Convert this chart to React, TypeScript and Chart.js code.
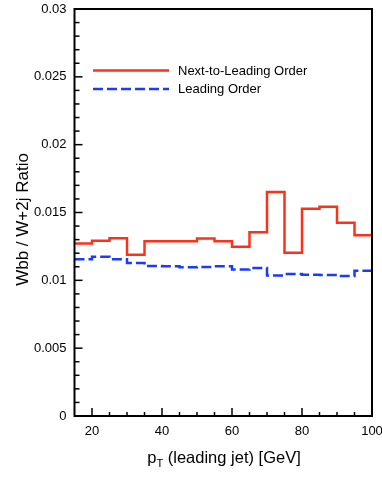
import React, { useEffect, useRef } from "react";
import { Chart, registerables } from "chart.js";

Chart.register(...registerables);

// Bin edges (GeV)
const binEdges = [15, 20, 25, 30, 35, 40, 45, 50, 55, 60, 65, 70, 75, 80, 85, 90, 95, 100];
// Next-to-Leading Order ratio per bin
const nloValues = [
  0.01272, 0.01292, 0.01310, 0.01188, 0.01289, 0.01289, 0.01289, 0.01309, 0.01288,
  0.01248, 0.01355, 0.01651, 0.01204, 0.01527, 0.01542, 0.01425, 0.01333,
];
// Leading Order ratio per bin
const loValues = [
  0.01156, 0.01173, 0.01156, 0.01127, 0.01105, 0.01104, 0.01096, 0.01099, 0.01103,
  0.01080, 0.01090, 0.01036, 0.01046, 0.01042, 0.01040, 0.01032, 0.01071,
];
const xTicks = [20, 40, 60, 80, 100];
const yTicks = [0, 0.005, 0.01, 0.015, 0.02, 0.025, 0.03];
const seriesLabels = ["Next-to-Leading Order", "Leading Order"];

const RED = "rgb(255,48,24)";
const BLUE = "rgb(28,58,255)";
const FONT = "'Liberation Sans', Arial, Helvetica, sans-serif";

function toSteps(vals: number[]) {
  const pts = vals.map((v, i) => ({ x: binEdges[i], y: v }));
  pts.push({ x: binEdges[binEdges.length - 1], y: vals[vals.length - 1] });
  return pts;
}

const decorPlugin = {
  id: "decor",
  afterDatasetsDraw(chart: any) {
    const { ctx, chartArea: a, scales } = chart;
    const xs = scales.x;
    const ys = scales.y;
    ctx.save();
    ctx.strokeStyle = "#000";
    // minor / major ticks on x (inward)
    ctx.lineWidth = 1.5;
    for (let v = 20; v <= 95; v += 5) {
      const px = xs.getPixelForValue(v);
      const len = v % 20 === 0 ? 8 : 4;
      ctx.beginPath();
      ctx.moveTo(px, a.bottom);
      ctx.lineTo(px, a.bottom - len);
      ctx.stroke();
    }
    // y ticks (inward, left axis)
    for (let i = 1; i < 30; i++) {
      const v = i * 0.001;
      const py = ys.getPixelForValue(v);
      const len = i % 5 === 0 ? 8 : 5;
      ctx.beginPath();
      ctx.moveTo(a.left, py);
      ctx.lineTo(a.left + len, py);
      ctx.stroke();
    }
    // frame
    ctx.lineWidth = 2;
    ctx.strokeRect(a.left, a.top, a.right - a.left, a.bottom - a.top);

    // legend
    ctx.lineWidth = 2.5;
    ctx.strokeStyle = RED;
    ctx.setLineDash([]);
    ctx.beginPath();
    ctx.moveTo(93, 70.5);
    ctx.lineTo(169, 70.5);
    ctx.stroke();
    ctx.strokeStyle = BLUE;
    ctx.setLineDash([10, 4]);
    ctx.beginPath();
    ctx.moveTo(93, 89);
    ctx.lineTo(169, 89);
    ctx.stroke();
    ctx.setLineDash([]);
    ctx.fillStyle = "#000";
    ctx.font = `13px ${FONT}`;
    ctx.textAlign = "left";
    ctx.textBaseline = "middle";
    ctx.fillText(seriesLabels[0], 178, 71);
    ctx.fillText(seriesLabels[1], 178, 89.5);

    // x title with subscript
    const main = " (leading jet) [GeV]";
    ctx.font = `16.5px ${FONT}`;
    const wp = ctx.measureText("p").width;
    const wm = ctx.measureText(main).width;
    ctx.font = `11px ${FONT}`;
    const wt = ctx.measureText("T").width;
    const total = wp + wt + wm;
    let x0 = 224 - total / 2;
    const base = 463;
    ctx.textBaseline = "alphabetic";
    ctx.font = `16.5px ${FONT}`;
    ctx.fillText("p", x0, base);
    ctx.font = `11px ${FONT}`;
    ctx.fillText("T", x0 + wp, base + 4);
    ctx.font = `16.5px ${FONT}`;
    ctx.fillText(main, x0 + wp + wt, base);

    // y title
    ctx.save();
    ctx.translate(23, 219.5);
    ctx.rotate(-Math.PI / 2);
    ctx.textAlign = "center";
    ctx.textBaseline = "middle";
    ctx.font = `17px ${FONT}`;
    ctx.fillText("Wbb / W+2j Ratio", 0, 0);
    ctx.restore();

    ctx.restore();
  },
};

export default function App() {
  const ref = useRef<HTMLCanvasElement | null>(null);
  useEffect(() => {
    if (!ref.current) return;
    const chart = new Chart(ref.current, {
      type: "line",
      data: {
        datasets: [
          {
            label: seriesLabels[0],
            data: toSteps(nloValues),
            borderColor: RED,
            borderWidth: 2.5,
            stepped: "before",
            pointRadius: 0,
            fill: false,
          },
          {
            label: seriesLabels[1],
            data: toSteps(loValues),
            borderColor: BLUE,
            borderWidth: 2.5,
            borderDash: [10, 4],
            stepped: "before",
            pointRadius: 0,
            fill: false,
          },
        ],
      },
      options: {
        animation: false,
        responsive: false,
        maintainAspectRatio: false,
        layout: { padding: { top: 9, right: 10, left: 0, bottom: 0 } },
        plugins: { legend: { display: false }, tooltip: { enabled: false } },
        scales: {
          x: {
            type: "linear",
            min: 15,
            max: 100,
            grid: { display: false },
            border: { display: false },
            ticks: {
              color: "#000",
              font: { family: FONT, size: 13 },
              padding: 0,
              maxRotation: 0,
              autoSkip: false,
            },
            afterBuildTicks: (s: any) => {
              s.ticks = xTicks.map((v) => ({ value: v }));
            },
            afterFit: (s: any) => {
              s.height = 76;
              s.paddingLeft = 0;
              s.paddingRight = 0;
            },
          },
          y: {
            type: "linear",
            min: 0,
            max: 0.03,
            grid: { display: false },
            border: { display: false },
            ticks: {
              color: "#000",
              font: { family: FONT, size: 13 },
              padding: 0,
              autoSkip: false,
              callback: (v: any) => String(+Number(v).toFixed(3)),
            },
            afterBuildTicks: (s: any) => {
              s.ticks = yTicks.map((v) => ({ value: v }));
            },
            afterFit: (s: any) => {
              s.width = 74.5;
              s.paddingTop = 0;
              s.paddingBottom = 0;
            },
          },
        },
      },
      plugins: [decorPlugin],
    });
    return () => chart.destroy();
  }, []);
  return (
    <div style={{ position: "absolute", left: 0, top: 0, width: 382, height: 492, background: "#fff" }}>
      <canvas ref={ref} width={382} height={492} style={{ display: "block" }} />
    </div>
  );
}
